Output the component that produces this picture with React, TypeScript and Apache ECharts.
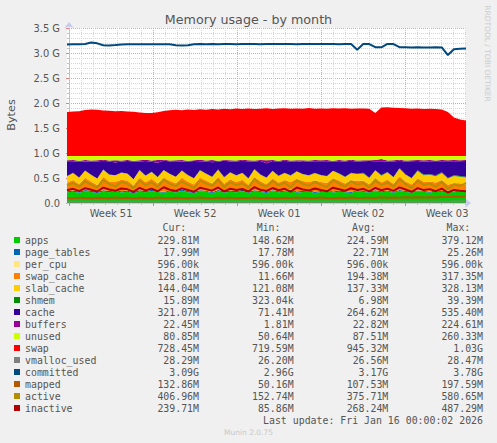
import React, { useEffect, useRef } from "react";
import * as echarts from "echarts";

// x domain: days relative to Monday 15 Dec 2025 00:00 (start of Week 51)
const X_START = -0.17;
const X_END = 33.08;

const weekStarts = [0, 7, 14, 21, 28];
const weekCenters = [3.5, 10.5, 17.5, 24.5, 31.5];
const weekLabels = ["Week 51", "Week 52", "Week 01", "Week 02", "Week 03"];

// values in MiB, one sample every ~12 hours
const apps = [218, 232, 210, 240, 226, 205, 236, 221, 248, 214,
  229, 201, 238, 219, 245, 224, 209, 233, 217, 252,
  220, 207, 239, 228, 199, 243, 215, 231, 222, 246,
  211, 236, 225, 203, 241, 218, 230, 256, 212, 227,
  238, 206, 223, 249, 214, 232, 219, 204, 244, 226,
  213, 240, 221, 235, 208, 247, 225, 216, 239, 229,
  210, 243, 222, 236, 218, 241, 230];
const pageTables = [24.9, 25.2, 24.8, 25.1, 24.7, 25.0, 24.6, 24.9, 24.5, 24.7,
  24.4, 24.6, 24.2, 24.5, 24.1, 24.3, 23.9, 24.1, 23.7, 23.9,
  23.6, 23.8, 23.4, 23.6, 23.3, 23.5, 23.1, 23.3, 22.9, 23.1,
  22.8, 23.0, 22.6, 22.8, 22.5, 22.7, 22.3, 22.5, 22.2, 22.4,
  22.0, 22.2, 21.9, 22.1, 21.7, 21.9, 21.5, 21.7, 21.3, 21.5,
  21.0, 21.2, 20.7, 20.9, 20.3, 20.5, 19.9, 20.1, 19.5, 19.6,
  19.1, 19.2, 18.7, 18.8, 18.3, 18.2, 18.0];
const perCpu = [0.58, 0.58, 0.58, 0.58, 0.58, 0.58, 0.58, 0.58, 0.58, 0.58,
  0.58, 0.58, 0.58, 0.58, 0.58, 0.58, 0.58, 0.58, 0.58, 0.58,
  0.58, 0.58, 0.58, 0.58, 0.58, 0.58, 0.58, 0.58, 0.58, 0.58,
  0.58, 0.58, 0.58, 0.58, 0.58, 0.58, 0.58, 0.58, 0.58, 0.58,
  0.58, 0.58, 0.58, 0.58, 0.58, 0.58, 0.58, 0.58, 0.58, 0.58,
  0.58, 0.58, 0.58, 0.58, 0.58, 0.58, 0.58, 0.58, 0.58, 0.58,
  0.58, 0.58, 0.58, 0.58, 0.58, 0.58, 0.58];
const swapCache = [170, 215, 150, 250, 185, 140, 270, 195, 160, 235,
  205, 130, 260, 180, 225, 150, 285, 200, 165, 240,
  190, 145, 255, 210, 175, 265, 155, 230, 185, 205,
  140, 275, 195, 160, 245, 180, 220, 150, 260, 200,
  170, 235, 185, 145, 270, 205, 160, 240, 190, 215,
  150, 255, 180, 225, 165, 280, 195, 140, 250, 185,
  210, 155, 230, 120, 175, 145, 129];
const slabCache = [135, 141, 132, 146, 138, 130, 149, 136, 133, 143,
  139, 128, 147, 134, 141, 131, 151, 137, 129, 144,
  136, 130, 148, 138, 133, 150, 131, 142, 135, 140,
  129, 152, 137, 132, 146, 134, 141, 127, 149, 138,
  133, 145, 136, 130, 150, 139, 132, 144, 137, 141,
  128, 148, 135, 143, 131, 153, 138, 129, 147, 136,
  140, 132, 145, 127, 139, 134, 144];
const shmem = [4.1, 5.3, 3.8, 6.2, 4.5, 3.2, 5.8, 4.9, 3.6, 6.7,
  5.1, 2.9, 7.4, 4.2, 5.6, 3.4, 8.1, 4.8, 3.1, 6.3,
  5.4, 2.6, 7.9, 4.4, 6.0, 3.3, 8.5, 5.0, 3.9, 6.8,
  4.7, 9.2, 5.5, 3.0, 7.6, 4.6, 6.4, 10.3, 5.2, 7.1,
  6.1, 11.8, 4.9, 8.4, 6.6, 12.5, 5.7, 9.6, 7.3, 13.4,
  8.8, 6.2, 14.1, 9.5, 7.8, 15.3, 10.4, 8.6, 16.8, 11.2,
  9.7, 17.5, 12.3, 10.8, 18.9, 13.6, 15.9];
const cache = [303, 236.4, 324.3, 179.6, 272.7, 344.7, 177.5, 270.1, 259.8, 228.5,
  255.4, 360.4, 170.3, 300.2, 202.2, 290.2, 190.9, 248, 318.1, 182.7,
  269.9, 350.5, 183.6, 247.9, 299.6, 157.1, 330.3, 216.6, 280.1, 243,
  340.4, 155.7, 274.8, 293.1, 196.8, 282.6, 246.2, 279.1, 207.5, 245.4,
  281.8, 236.9, 284.1, 300.4, 187.6, 229.5, 311.7, 245.6, 245.3, 238,
  337.1, 186.5, 283.1, 214.5, 319.8, 149.1, 256.6, 342.2, 188.6, 262.1,
  267.1, 286.2, 228.9, 342.3, 286.7, 302.1, 321];
const buffers = [18, 24, 21, 35, 19, 27, 22, 16, 48, 20,
  23, 17, 29, 21, 26, 55, 19, 24, 18, 31,
  22, 16, 27, 20, 42, 23, 18, 25, 21, 19,
  28, 17, 22, 60, 20, 24, 19, 26, 21, 33,
  18, 23, 20, 27, 17, 38, 22, 19, 25, 21,
  16, 24, 45, 20, 23, 18, 26, 21, 19, 30,
  22, 17, 25, 20, 23, 19, 22];
const unused = [88, 82, 95, 79, 91, 86, 76, 93, 84, 89,
  80, 97, 85, 78, 92, 83, 74, 90, 87, 81,
  94, 86, 77, 89, 83, 96, 80, 88, 91, 78,
  85, 93, 79, 87, 82, 95, 76, 90, 84, 88,
  92, 81, 86, 79, 94, 83, 89, 77, 91, 85,
  87, 80, 62, 93, 86, 78, 90, 84, 81, 88,
  83, 91, 79, 86, 82, 88, 81];
const swap = [903, 915, 920, 945, 954, 948, 935, 928, 918, 922,
  912, 905, 893, 884, 880, 898, 925, 938, 946, 940,
  952, 944, 958, 950, 962, 955, 968, 960, 972, 962,
  975, 966, 970, 978, 964, 974, 980, 968, 976, 970,
  982, 971, 975, 967, 980, 972, 978, 969, 976, 972,
  970, 880, 992, 998, 988, 984, 978, 970, 974, 966,
  970, 962, 955, 900, 790, 750, 728];
const vmallocUsed = [26.4, 26.5, 26.3, 26.6, 26.4, 26.5, 26.4, 26.3, 26.5, 26.6,
  26.4, 26.5, 26.3, 26.4, 26.6, 26.5, 26.4, 26.3, 26.5, 26.4,
  26.6, 26.5, 26.4, 26.3, 26.5, 26.6, 26.4, 26.5, 26.3, 26.4,
  26.5, 26.6, 26.4, 26.5, 26.3, 26.4, 26.5, 26.6, 26.4, 26.5,
  26.3, 26.4, 26.5, 26.6, 26.4, 26.5, 26.3, 26.4, 26.5, 26.4,
  26.6, 26.5, 26.4, 26.3, 26.5, 26.6, 26.4, 26.5, 26.7, 26.9,
  27.2, 27.8, 28.0, 28.1, 28.2, 28.3, 28.3];
const committed = [3248, 3250, 3252, 3258, 3285, 3270, 3232, 3228, 3235, 3248,
  3250, 3252, 3250, 3249, 3252, 3250, 3251, 3250, 3230, 3226,
  3232, 3252, 3254, 3253, 3255, 3252, 3254, 3256, 3253, 3255,
  3254, 3256, 3253, 3255, 3257, 3254, 3256, 3255, 3253, 3256,
  3255, 3257, 3254, 3256, 3255, 3253, 3256, 3255, 3140, 3255,
  3256, 3190, 3188, 3258, 3255, 3190, 3188, 3186, 3188, 3187,
  3185, 3188, 3186, 3031, 3150, 3160, 3164];
const mapped = [104, 98, 110, 101, 95, 108, 103, 99, 112, 100,
  106, 97, 109, 102, 96, 111, 104, 98, 107, 101,
  99, 105, 113, 100, 96, 108, 102, 110, 97, 104,
  101, 112, 98, 106, 103, 95, 109, 100, 114, 105,
  102, 97, 111, 104, 99, 108, 101, 115, 103, 106,
  110, 104, 118, 107, 113, 109, 116, 112, 120, 114,
  119, 115, 124, 121, 128, 126, 133];
const active = [360, 410, 330, 445, 375, 315, 470, 385, 340, 430,
  395, 305, 455, 365, 420, 325, 480, 390, 345, 440,
  370, 310, 460, 400, 350, 475, 320, 425, 365, 405,
  315, 490, 380, 335, 450, 360, 415, 320, 465, 390,
  350, 430, 370, 325, 470, 395, 340, 445, 375, 410,
  320, 460, 365, 420, 335, 485, 385, 310, 455, 370,
  400, 330, 435, 290, 380, 350, 407];
const inactive = [262, 290, 245, 305, 270, 235, 315, 275, 250, 298,
  280, 228, 310, 258, 295, 240, 322, 272, 248, 300,
  268, 232, 312, 284, 252, 318, 238, 292, 265, 286,
  236, 325, 270, 246, 306, 260, 290, 234, 316, 278,
  255, 298, 266, 240, 314, 282, 250, 302, 268, 288,
  238, 310, 262, 294, 248, 320, 276, 230, 304, 264,
  284, 242, 296, 215, 268, 250, 240];

const seriesNames = ["apps", "page_tables", "per_cpu", "swap_cache", "slab_cache", "shmem", "cache",
  "buffers", "unused", "swap", "vmalloc_used", "committed", "mapped", "active", "inactive"];
const curVals = ["229.81M", "17.99M", "596.00k", "128.81M", "144.04M", "15.89M", "321.07M", "22.45M",
  "80.85M", "728.45M", "28.29M", "3.09G", "132.86M", "406.96M", "239.71M"];
const minVals = ["148.62M", "17.78M", "596.00k", "11.66M", "121.08M", "323.04k", "71.41M", "1.81M",
  "50.64M", "719.59M", "26.20M", "2.96G", "50.16M", "152.74M", "85.86M"];
const avgVals = ["224.59M", "22.71M", "596.00k", "194.38M", "137.33M", "6.98M", "264.62M", "22.82M",
  "87.51M", "945.32M", "26.56M", "3.17G", "107.53M", "375.71M", "268.24M"];
const maxVals = ["379.12M", "25.26M", "596.00k", "317.35M", "328.13M", "39.39M", "535.40M", "224.61M",
  "260.33M", "1.03G", "28.47M", "3.78G", "197.59M", "580.65M", "487.29M"];
const columnHeaders = ["Cur:", "Min:", "Avg:", "Max:"];

const COLORS: Record<string, string> = {
  apps: "#00CC00", page_tables: "#0066B3", per_cpu: "#FFE680", swap_cache: "#FF8000",
  slab_cache: "#FFCC00", shmem: "#008F00", cache: "#330099", buffers: "#990099",
  unused: "#CCFF00", swap: "#FF0000", vmalloc_used: "#808080", committed: "#00487D",
  mapped: "#B35A00", active: "#B38F00", inactive: "#B30000",
};

const SANS = "DejaVu Sans";
const MONO = "DejaVu Sans Mono";
const AXIS_COLOR = "#c4cbee";

export default function App() {
  const ref = useRef<HTMLDivElement>(null);
  useEffect(() => {
    document.body.style.margin = "0";
    document.body.style.overflow = "hidden";
    const chart = echarts.init(ref.current!, null, { renderer: "svg" });
    const n = apps.length;
    const step = (X_END - X_START) / (n - 1);
    // sample times (days), evenly spaced over the plotted span; used as categories
    const times = apps.map((_, i) => (X_START + i * step).toFixed(3));

    const areas: [string, number[]][] = [
      ["apps", apps], ["page_tables", pageTables], ["per_cpu", perCpu], ["swap_cache", swapCache],
      ["slab_cache", slabCache], ["shmem", shmem], ["cache", cache], ["buffers", buffers],
      ["unused", unused], ["swap", swap],
    ];
    const lines: [string, number[]][] = [
      ["vmalloc_used", vmallocUsed], ["committed", committed], ["mapped", mapped],
      ["active", active], ["inactive", inactive],
    ];

    const series: any[] = [
      ...areas.map(([name, arr]) => ({
        name, type: "line", stack: "mem", data: arr, xAxisIndex: 2, symbol: "none", showSymbol: false,
        color: COLORS[name], lineStyle: { width: 0 }, itemStyle: { color: COLORS[name] },
        areaStyle: { color: COLORS[name], opacity: 1 }, z: 2,
      })),
      ...lines.map(([name, arr]) => ({
        name, type: "line", data: arr, xAxisIndex: 2, symbol: "none", showSymbol: false,
        color: COLORS[name], itemStyle: { color: COLORS[name] },
        lineStyle: { width: 2, color: COLORS[name] }, z: 3,
      })),
    ];

    const dayTicks: number[] = [];
    for (let d = 0; d <= 33; d++) if (d % 7 !== 0) dayTicks.push(d);

    const rowY = (i: number) => 240 + 12 * i;
    const valueRight = [199, 293.6, 388.3, 483];
    const headerLeft = [162.5, 256.7, 352, 446.5];
    const graphic: any[] = [];
    columnHeaders.forEach((h, c) => graphic.push({
      type: "text", x: headerLeft[c], y: 227.5, silent: true,
      style: { text: h, align: "left", verticalAlign: "middle", font: `9.9px "${MONO}"`, fill: "#555" },
    }));
    [curVals, minVals, avgVals, maxVals].forEach((arr, c) => arr.forEach((v, i) => graphic.push({
      type: "text", x: valueRight[c], y: rowY(i), silent: true,
      style: { text: v, align: "right", verticalAlign: "middle", font: `9.9px "${MONO}"`, fill: "#555" },
    })));
    graphic.push(
      { type: "text", x: 483, y: 420, silent: true,
        style: { text: "Last update: Fri Jan 16 00:00:02 2026", align: "right", verticalAlign: "middle", font: `9.9px "${MONO}"`, fill: "#555" } },
      { type: "text", x: 248.5, y: 432, silent: true,
        style: { text: "Munin 2.0.75", align: "center", verticalAlign: "middle", font: `7.5px "${SANS}"`, fill: "#c8c8c8" } },
      { type: "text", x: 248.5, y: 19, silent: true,
        style: { text: "Memory usage - by month", align: "center", verticalAlign: "middle", font: `12.7px "${SANS}"`, fill: "#555" } },
      { type: "text", x: 11, y: 115, rotation: Math.PI / 2, silent: true,
        style: { text: "Bytes", align: "center", verticalAlign: "middle", font: `11.3px "${SANS}"`, fill: "#555" } },
      { type: "text", x: 487.5, y: 53.5, rotation: -Math.PI / 2, silent: true,
        style: { text: "RRDTOOL / TOBI OETIKER", align: "center", verticalAlign: "middle", font: `7.5px "${SANS}"`, fill: "#cccccc" } },
    );

    const option: any = {
      animation: false,
      backgroundColor: "#F0F0F0",
      grid: { left: 67, top: 28, width: 399, height: 175, show: true, backgroundColor: "#FFFFFF", borderWidth: 0 },
      legend: {
        orient: "vertical", left: 14, top: 234, padding: 0, itemGap: 0, itemWidth: 6, itemHeight: 6,
        icon: "rect", selectedMode: false, data: seriesNames,
        textStyle: { fontFamily: MONO, fontSize: 9.9, color: "#555", lineHeight: 12 },
      },
      xAxis: [
        {
          type: "value", min: X_START, max: X_END,
          axisLine: { show: true, onZero: false, lineStyle: { color: AXIS_COLOR }, symbol: ["none", "arrow"], symbolSize: [7, 6], symbolOffset: [0, 5] },
          axisTick: { show: true, customValues: weekStarts, length: 3, lineStyle: { color: "#e08080" } },
          axisLabel: {
            customValues: weekCenters, margin: 5, color: "#555", fontFamily: SANS, fontSize: 9.9,
            formatter: (v: number) => { const k = weekCenters.indexOf(v); return k >= 0 ? weekLabels[k] : ""; },
          },
          splitLine: { show: true, lineStyle: { color: "#eaa0a0", type: [1, 1], width: 1 } },
          z: 1,
        },
        {
          type: "value", min: X_START, max: X_END, position: "bottom",
          axisLine: { show: false },
          axisTick: { show: true, customValues: dayTicks, length: 2, lineStyle: { color: "#c0c0c0" } },
          axisLabel: { show: false },
          splitLine: { show: true, lineStyle: { color: "#d6d6d6", type: [1, 1], width: 1 } },
          z: 0,
        },
        {
          type: "category", data: times, boundaryGap: false, show: false,
          axisLine: { show: false }, axisTick: { show: false }, axisLabel: { show: false }, splitLine: { show: false },
        },
      ],
      yAxis: {
        type: "value", min: 0, max: 3584, interval: 512,
        axisLine: { show: true, lineStyle: { color: AXIS_COLOR }, symbol: ["none", "arrow"], symbolSize: [7, 6], symbolOffset: [0, 6] },
        axisTick: { show: true, length: 3, lineStyle: { color: "#e08080" } },
        minorTick: { show: true, splitNumber: 5, length: 2, lineStyle: { color: "#c0c0c0" } },
        axisLabel: {
          margin: 7, color: "#555", fontFamily: SANS, fontSize: 9.9,
          formatter: (v: number) => (v === 0 ? "0.0" : (v / 1024).toFixed(1) + " G"),
        },
        splitLine: { show: true, lineStyle: { color: "#eaa0a0", type: [1, 1], width: 1 } },
        minorSplitLine: { show: true, lineStyle: { color: "#d6d6d6", type: [1, 1], width: 1 } },
      },
      series,
      graphic,
    };
    chart.setOption(option);
    return () => chart.dispose();
  }, []);
  return <div ref={ref} style={{ width: 497, height: 443 }} />;
}
